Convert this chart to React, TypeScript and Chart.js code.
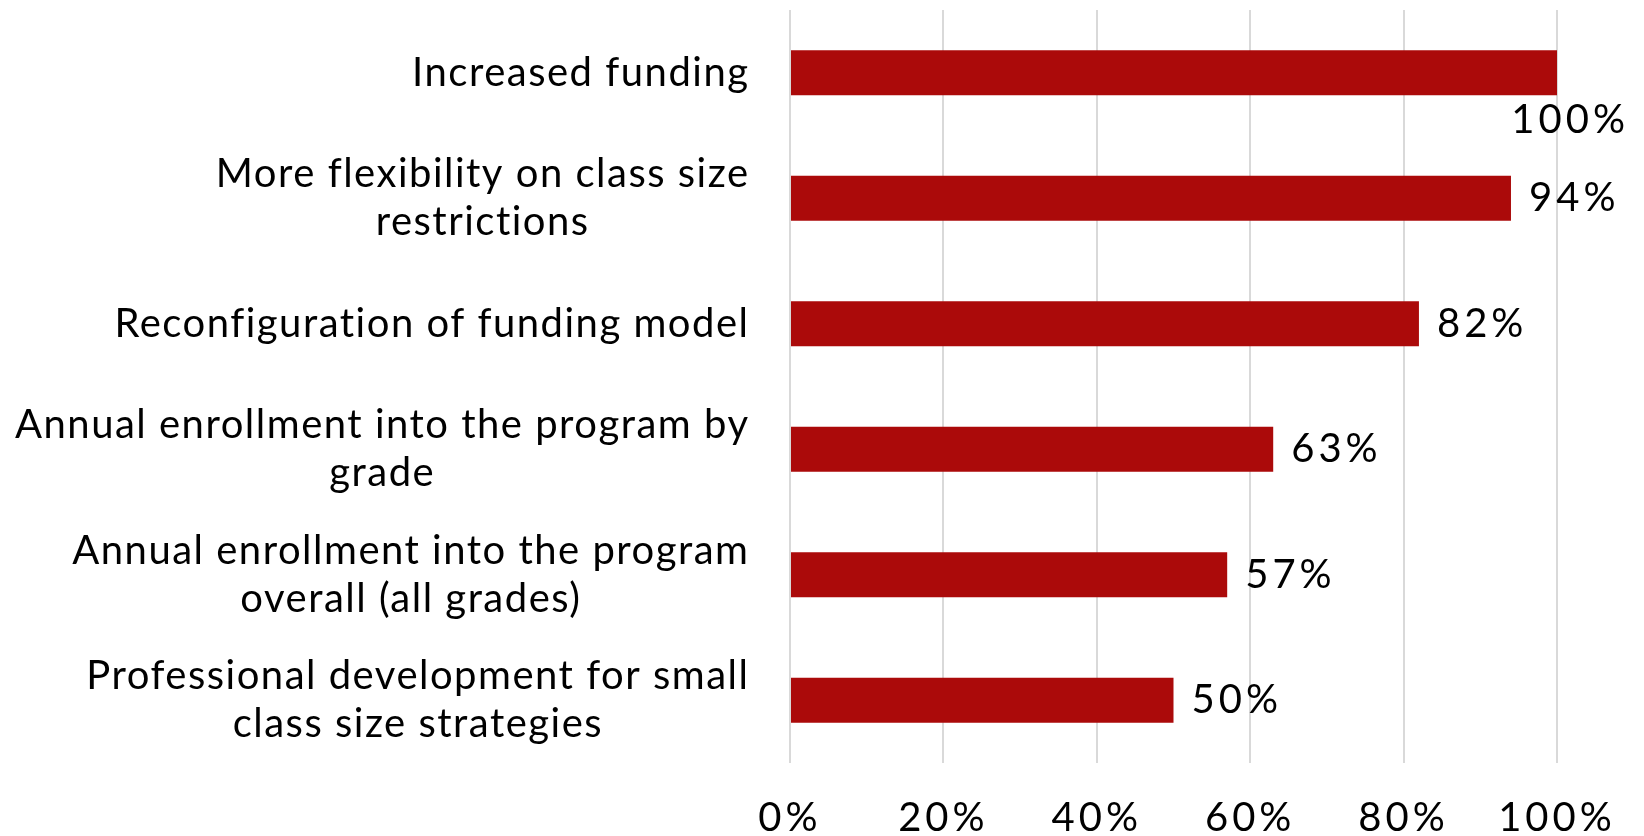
import React, { useEffect, useRef } from "react";
import { Chart, registerables } from "chart.js";

Chart.register(...registerables);

const categories: (string | string[])[] = [
  "Increased funding",
  ["More flexibility on class size", "restrictions"],
  "Reconfiguration of funding model",
  ["Annual enrollment into the program by", "grade"],
  ["Annual enrollment into the program", "overall (all grades)"],
  ["Professional development for small", "class size strategies"],
];
const values: number[] = [100, 94, 82, 63, 57, 50];
const xTicks: number[] = [0, 20, 40, 60, 80, 100];

const FONT_FAMILY = "Lato, 'Open Sans', sans-serif";
const FONT_SIZE = 40;
const BAR_COLOR = "#AB0A0A";
const TEXT_SPACING = 1.5;
const NUM_SPACING = 4;

const spacingPlugin = {
  id: "spacing",
  beforeDraw(chart: any) {
    (chart.ctx as any).letterSpacing = `${NUM_SPACING}px`;
  },
  afterDraw(chart: any) {
    (chart.ctx as any).letterSpacing = "0px";
  },
};

const yLabelPlugin = {
  id: "yLabels",
  afterDraw(chart: any) {
    const ctx = chart.ctx;
    const yScale = chart.scales.y;
    const area = chart.chartArea;
    ctx.save();
    ctx.letterSpacing = `${TEXT_SPACING}px`;
    ctx.font = `${FONT_SIZE}px ${FONT_FAMILY}`;
    ctx.fillStyle = "#000";
    ctx.textBaseline = "middle";
    ctx.textAlign = "center";
    const lh = FONT_SIZE * 1.2;
    categories.forEach((cat, i) => {
      const lines = Array.isArray(cat) ? cat : [cat];
      const cy = yScale.getPixelForValue(i);
      const maxW = Math.max(...lines.map((l) => ctx.measureText(l).width - TEXT_SPACING));
      const right = area.left - 42;
      const cx = right - maxW / 2 + TEXT_SPACING / 2;
      const top = cy - (lines.length * lh) / 2 + lh / 2;
      lines.forEach((l, j) => ctx.fillText(l, cx, top + j * lh));
    });
    ctx.restore();
  },
};

const valueLabelPlugin = {
  id: "valueLabels",
  afterDatasetsDraw(chart: any) {
    const ctx = chart.ctx;
    const meta = chart.getDatasetMeta(0);
    ctx.save();
    ctx.letterSpacing = `${NUM_SPACING}px`;
    ctx.font = `${FONT_SIZE}px ${FONT_FAMILY}`;
    ctx.fillStyle = "#000";
    ctx.textBaseline = "middle";
    meta.data.forEach((bar: any, i: number) => {
      const text = `${values[i]}%`;
      const w = ctx.measureText(text).width - NUM_SPACING;
      let x = bar.x + 18;
      let y = bar.y;
      ctx.textAlign = "left";
      if (x + w > chart.width - 15) {
        x = chart.width - 19 - w;
        y = bar.y + 47;
      }
      ctx.fillText(text, x, y);
    });
    ctx.restore();
  },
};

export default function App() {
  const ref = useRef<HTMLCanvasElement | null>(null);
  useEffect(() => {
    if (!ref.current) return;
    const chart = new Chart(ref.current, {
      type: "bar",
      data: {
        labels: categories as any,
        datasets: [
          {
            data: values,
            backgroundColor: BAR_COLOR,
            barPercentage: 0.36,
            categoryPercentage: 1,
          },
        ],
      },
      options: {
        indexAxis: "y",
        animation: false,
        responsive: true,
        maintainAspectRatio: false,
        layout: { padding: { top: 10, right: 87, left: 0, bottom: 0 } },
        plugins: { legend: { display: false }, tooltip: { enabled: false } },
        scales: {
          x: {
            min: 0,
            max: 100,
            afterBuildTicks: (scale: any) => {
              scale.ticks = xTicks.map((v) => ({ value: v }));
            },
            afterFit: (scale: any) => {
              scale.height = 73;
            },
            grid: { color: "#D9D9D9", lineWidth: 2, drawTicks: false },
            border: { display: false },
            ticks: {
              callback: (v: any) => `${v}%`,
              color: "#000",
              font: { family: FONT_FAMILY, size: FONT_SIZE },
              padding: 31,
              maxRotation: 0,
            },
          },
          y: {
            afterFit: (scale: any) => {
              scale.width = 790;
            },
            grid: { display: false, drawTicks: false },
            border: { display: false },
            ticks: { display: false },
          },
        },
      },
      plugins: [spacingPlugin, yLabelPlugin, valueLabelPlugin],
    });
    return () => chart.destroy();
  }, []);
  return (
    <div style={{ position: "fixed", left: 0, top: 0, width: 1644, height: 836, background: "#fff" }}>
      <canvas ref={ref} />
    </div>
  );
}
